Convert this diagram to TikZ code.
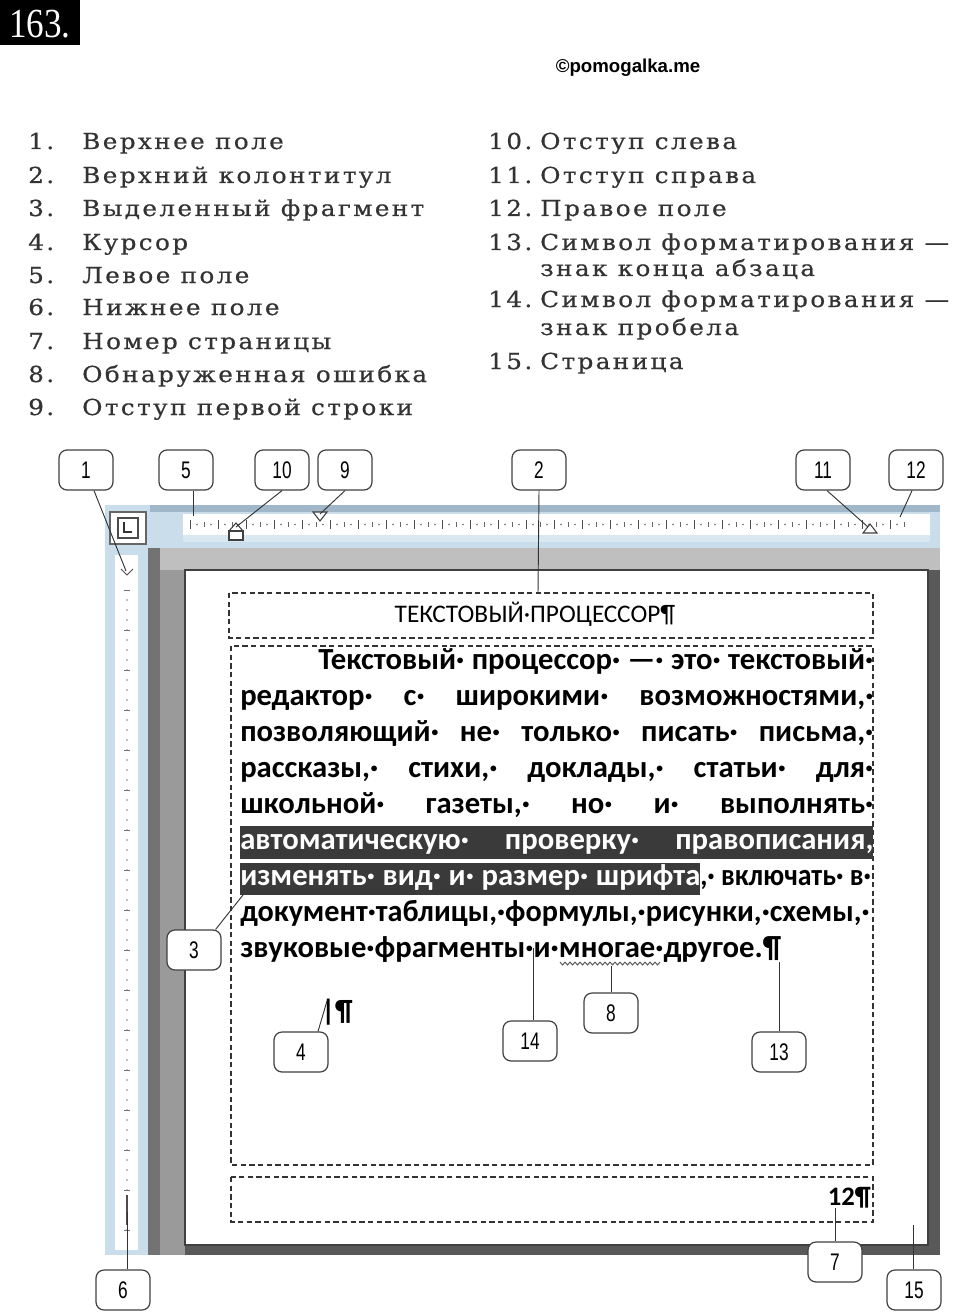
\documentclass[tikz,border=0pt]{standalone}
\usepackage{fontspec}
\setmainfont{DejaVu Serif}
\newfontfamily\listfont[LetterSpace=11,FakeBold=0.6,FakeStretch=1.12]{DejaVu Serif}
\newfontfamily\calf{Carlito}
\newfontfamily\libs{Liberation Sans}
\newfontfamily\tms[FakeStretch=0.85]{Liberation Serif}
\newfontfamily\narf[FakeStretch=0.72]{Liberation Sans}
\definecolor{rulerblue}{HTML}{C9DDEB}
\definecolor{rulerdark}{HTML}{9FB7C8}
\definecolor{winGray}{HTML}{9A9A9A}
\definecolor{hl}{HTML}{3A3A3A}
\tikzset{
  lbl/.style={draw=black!75, line width=0.9pt, rounded corners=6pt, fill=white,
    minimum width=40.5pt, minimum height=30pt, inner sep=0pt, font=\narf\fontsize{18}{18}\selectfont},
  lead/.style={draw=black!80, line width=0.7pt},
  dbox/.style={draw=black!80, line width=1.1pt, dash pattern=on 4pt off 2.5pt},
  li/.style={anchor=base west, inner sep=0pt, text=black!80, font=\listfont\fontsize{16.5}{16.5}\selectfont},
  bt/.style={anchor=base west, inner sep=0pt, font=\calf\bfseries\fontsize{23}{23}\selectfont},
}
\newcommand{\jl}[2]{\makebox[#1][s]{#2}}
\begin{document}
\begin{tikzpicture}[x=0.75pt,y=-0.75pt]
\useasboundingbox (0,0) rectangle (960,1316);
% title
\fill[black] (0,0) rectangle (80,45);
\node[anchor=center, text=white, inner sep=0pt, font=\tms\fontsize{31}{31}\selectfont] (num) at (40,24) {163.};
\node[font=\libs\bfseries\fontsize{14}{14}\selectfont, inner sep=0pt] (copy) at (628,68) {©pomogalka.me};
% left list
\foreach \y/\n/\t in {149/1./Верхнее поле, 183/2./Верхний колонтитул, 216/3./Выделенный фрагмент, 250/4./Курсор, 283/5./Левое поле, 315/6./Нижнее поле, 349/7./Номер страницы, 382/8./Обнаруженная ошибка, 415/9./Отступ первой строки}{
  \node[li] at (28,\y) {\n};
  \node[li] at (82,\y) {\t};
}
\foreach \y/\n/\t in {149/10./Отступ слева, 183/11./Отступ справа, 216/12./Правое поле, 250/13./Символ форматирования —, 276//знак конца абзаца, 307/14./Символ форматирования —, 335//знак пробела, 369/15./Страница}{
  \node[li] at (488,\y) {\n};
  \node[li] at (540,\y) {\t};
}
% window background
\fill[rulerblue] (105,505) rectangle (940,548);
\fill[rulerdark] (150,505) rectangle (940,512);
\fill[white] (183,514) rectangle (930,535);
\fill[rulerblue!70] (183,535) rectangle (930,542);
\fill[rulerblue] (105,548) rectangle (148,1255);
\fill[white] (115,555) rectangle (138,1250);
\fill[winGray] (148,548) rectangle (940,1255);
\fill[black!25] (160,548) rectangle (940,570);
\fill[black!55] (148,548) rectangle (160,1255);
\fill[black!65] (185,1240) rectangle (940,1255);
\fill[black!65] (928,570) rectangle (940,1255);
\fill[white] (185,570) rectangle (928,1245);
\draw[black!75, line width=1.4pt] (185,570) rectangle (928,1245);
% corner tab
\draw[black!60, fill=white, line width=0.8pt] (110,512) rectangle (146,544);
\draw[black!70, line width=0.8pt] (118,518) rectangle (138,538);
\draw[black!80, line width=1.2pt] (124,522) -- (124,532) -- (132,532);
% horizontal ruler ticks
\foreach \x in {190,218,...,910}{
  \draw[black!70, line width=0.6pt] (\x,520) -- (\x,529);
}
\foreach \x in {204,232,...,905}{
  \draw[black!60, line width=0.6pt] (\x,522) -- (\x,527);
}
\foreach \x in {197,211,...,905}{
  \fill[black!60] (\x,524.5) circle (0.9);
}
% vertical ruler ticks
\foreach \y in {590,630,...,1240}{
  \draw[black!55, line width=0.6pt] (124,\y) -- (130,\y);
}
\foreach \y in {600,610,...,1235}{
  \fill[black!50] (127,\y) circle (0.8);
}
\draw[black!70, fill=white, line width=0.7pt] (121,569) -- (127,575) -- (133,569);
\draw[black!70, line width=0.8pt] (127,1195) -- (127,1225);
% ruler markers
\draw[black!75, fill=white, line width=0.8pt] (313,512) -- (327,512) -- (320,521) -- cycle;
\coordinate (m9) at (320,514);
\draw[black!75, fill=white, line width=0.8pt] (229,531) -- (236,523) -- (243,531) -- cycle;
\draw[black!75, fill=white, line width=0.8pt] (229,531) rectangle (243,540);
\coordinate (m10) at (236,527);
\draw[black!75, fill=white, line width=0.8pt] (863,533) -- (870,524) -- (877,533) -- cycle;
\coordinate (m11) at (868,527);
\coordinate (m12) at (900,517);
\coordinate (m5) at (193,516);
\coordinate (m1) at (126,571);
% dashed boxes
\draw[dbox] (229,593) rectangle (873,638);
\draw[dbox] (231,646) rectangle (873,1165);
\draw[dbox] (231,1177) rectangle (873,1222);
\coordinate (m2) at (538,593);
\node[inner sep=0pt, font=\calf\fontsize{19}{19}\selectfont] (head) at (535,614) {ТЕКСТОВЫЙ·ПРОЦЕССОР¶};
% body text
\node[bt] (l1) at (318,669) {\jl{416.25pt}{Текстовый· процессор· —· это· текстовый·}};
\node[bt] (l2) at (240,705) {\jl{474.75pt}{редактор· с· широкими· возможностями,·}};
\node[bt] (l3) at (240,741) {\jl{474.75pt}{позволяющий· не· только· писать· письма,·}};
\node[bt] (l4) at (240,777) {\jl{474.75pt}{рассказы,· стихи,· доклады,· статьи· для·}};
\node[bt] (l5) at (240,813) {\jl{474.75pt}{школьной· газеты,· но· и· выполнять·}};
\fill[hl] (240,826) rectangle (873,859);
\node[bt, text=white] (l6) at (240,849) {\jl{474.75pt}{автоматическую· проверку· правописания,}};
\fill[hl] (240,863) rectangle (700,895);
\node[bt, text=white] (l7a) at (240,885) {\jl{345pt}{изменять· вид· и· размер· шрифта}};
\node[bt] (l7b) at (700,885) {\resizebox{128pt}{\height}{,· включать· в·}};
\node[bt] (l8) at (240,921) {\resizebox{472pt}{\height}{документ·таблицы,·формулы,·рисунки,·схемы,·}};
\node[bt] (l9) at (240,957) {звуковые·фрагменты·и·многае·другое.¶};
\foreach \x in {560,565,...,655}{
  \draw[black!65, line width=0.7pt] (\x,962) -- (\x+2.5,965) -- (\x+5,962);
}
\coordinate (m14) at (533,948);
\coordinate (m8) at (611,966);
\coordinate (m13) at (779,962);
% cursor
\node[inner sep=0pt, font=\calf\bfseries\fontsize{22}{22}\selectfont] (cur) at (337,1012) {|¶};
\coordinate (m4) at (327,1001);
\coordinate (m3) at (243,895);
% footer
\node[anchor=base east, inner sep=0pt, font=\calf\bfseries\fontsize{20}{20}\selectfont] (pg) at (871,1205) {12¶};
\coordinate (m7) at (835,1208);
\coordinate (m15) at (913,1225);
\coordinate (m6) at (127,1212);
% labels
\node[lbl] (b1) at (86,470) {1};
\node[lbl] (b5) at (186,470) {5};
\node[lbl] (b10) at (282,470) {10};
\node[lbl] (b9) at (345,470) {9};
\node[lbl] (b2) at (539,470) {2};
\node[lbl] (b11) at (823,470) {11};
\node[lbl] (b12) at (916,470) {12};
\node[lbl] (b3) at (194,950) {3};
\node[lbl] (b4) at (301,1052) {4};
\node[lbl] (b14) at (530,1041) {14};
\node[lbl] (b8) at (611,1013) {8};
\node[lbl] (b13) at (779,1052) {13};
\node[lbl] (b6) at (123,1290) {6};
\node[lbl] (b7) at (835,1262) {7};
\node[lbl] (b15) at (914,1290) {15};
% leaders
\draw[lead] (b1.south) ++(8,0) -- (m1);
\draw[lead] (b5.south) ++(7,0) -- (m5);
\draw[lead] (b10.south) -- (m10);
\draw[lead] (b9.south) -- (m9);
\draw[lead] (b2.south) -- (m2);
\draw[lead] (b11.south) ++(4,0) -- (m11);
\draw[lead] (b12.south) ++(-4,0) -- (m12);
\draw[lead] (b3.north east) ++(-6,0) -- (m3);
\draw[lead] (b4.north) ++(17,0) -- (m4);
\draw[lead] (b14.north) ++(3,0) -- (m14);
\draw[lead] (b8.north) -- (m8);
\draw[lead] (b13.north) -- (m13);
\draw[lead] (b6.north) ++(4,0) -- (m6);
\draw[lead] (b7.north) -- (m7);
\draw[lead] (b15.north) ++(-1,0) -- (m15);
\end{tikzpicture}
\end{document}
